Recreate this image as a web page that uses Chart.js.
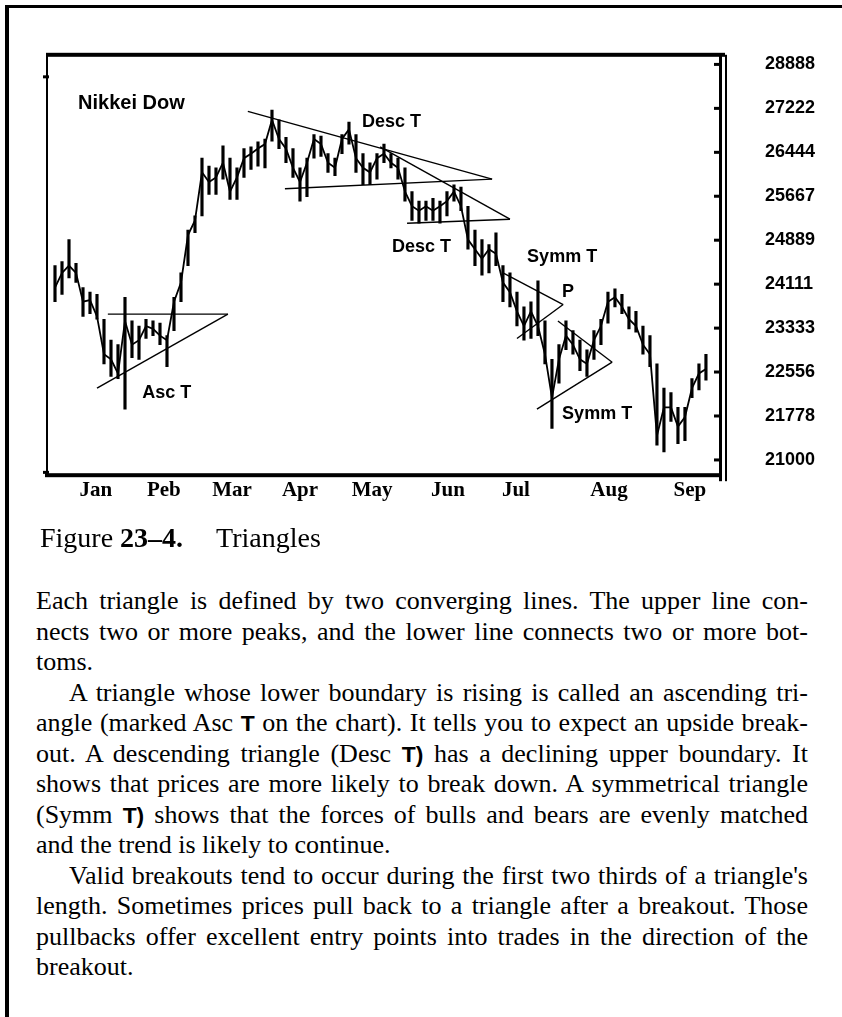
<!DOCTYPE html>
<html>
<head>
<meta charset="utf-8">
<title>Triangles</title>
<script src="https://cdn.jsdelivr.net/npm/chart.js@4.4.1/dist/chart.umd.min.js"></script>
<style>
  html, body { margin: 0; padding: 0; background: #fff; }
  body { width: 842px; height: 1017px; position: relative; overflow: hidden; }
  .page { position: absolute; left: 5px; top: 5px; width: 842px; height: 1020px; border-top: 3px solid #000; border-left: 4px solid #000; }
  #chartBox { position: absolute; left: 0; top: 0; width: 842px; height: 530px; }
  .caption { position: absolute; left: 40px; top: 523px; font-family: 'Liberation Serif', serif; font-size: 28px; line-height: 30px; color: #000; white-space: nowrap; }
  .caption .num { font-weight: bold; margin-right: 33px; }
  .text { position: absolute; left: 36px; top: 586px; width: 772px; font-family: 'Liberation Serif', serif; font-size: 26px; line-height: 30.5px; color: #000; }
  .text div { white-space: nowrap; }
  .text .j { text-align: justify; text-align-last: justify; white-space: normal; }
  .text .ind { text-indent: 33px; }
  .t { font-family: 'Liberation Sans', sans-serif; font-weight: bold; font-size: 0.88em; }
</style>
</head>
<body>
<div class="page"></div>
<div id="chartBox"><canvas id="nikkeiChart" width="842" height="530"></canvas></div>
<div class="caption">Figure <span class="num">23–4.</span>Triangles</div>
<div class="text">
  <div class="j">Each triangle is defined by two converging lines. The upper line con-</div>
  <div class="j">nects two or more peaks, and the lower line connects two or more bot-</div>
  <div>toms.</div>
  <div class="j ind">A triangle whose lower boundary is rising is called an ascending tri-</div>
  <div class="j">angle (marked Asc <span class="t">T</span> on the chart). It tells you to expect an upside break-</div>
  <div class="j">out. A descending triangle (Desc <span class="t">T)</span> has a declining upper boundary. It</div>
  <div class="j">shows that prices are more likely to break down. A symmetrical triangle</div>
  <div class="j">(Symm <span class="t">T)</span> shows that the forces of bulls and bears are evenly matched</div>
  <div>and the trend is likely to continue.</div>
  <div class="j ind">Valid breakouts tend to occur during the first two thirds of a triangle's</div>
  <div class="j">length. Sometimes prices pull back to a triangle after a breakout. Those</div>
  <div class="j">pullbacks offer excellent entry points into trades in the direction of the</div>
  <div>breakout.</div>
</div>
<script>
// trading day index of each sampled bar
const days = [0, 2, 4, 6, 8, 10, 12, 14, 16, 18, 20, 22, 24, 26, 28, 30, 32, 34, 36, 38,
	40, 42, 44, 46, 48, 50, 52, 54, 56, 58, 60, 62, 64, 66, 68, 70, 72, 74, 76, 78,
	80, 82, 84, 86, 88, 90, 92, 94, 96, 98, 100, 102, 104, 106, 108, 110, 112, 114, 116, 118,
	120, 122, 124, 126, 128, 130, 132, 134, 136, 138, 140, 142, 144, 146, 148, 150, 152, 154, 156, 158,
	160, 162, 164, 166, 168, 170, 172, 174, 176, 178, 180, 182, 184, 186];
const highs = [24440, 24510, 24900, 24480, 24050, 23970, 23930, 23490, 23120, 23040,
	23880, 23460, 23370, 23490, 23460, 23420, 23200, 23880, 24310, 25070,
	25320, 26340, 26200, 26170, 26560, 26340, 26170, 26510, 26540, 26630,
	26680, 27190, 27020, 26710, 26510, 26170, 26340, 26760, 26730, 26420,
	26340, 26760, 26980, 26760, 26420, 26260, 26420, 26590, 26420, 26340,
	26170, 25750, 25580, 25580, 25630, 25580, 25750, 25870, 25830, 25490,
	25070, 24900, 24810, 25020, 24440, 24310, 23970, 23710, 23800, 24170,
	23460, 22780, 23040, 23460, 23290, 23120, 22950, 23290, 23490, 23970,
	24030, 23930, 23710, 23630, 23370, 23200, 22700, 22270, 22190, 21930,
	21930, 22440, 22700, 22870];
const lows = [23800, 23930, 24220, 24140, 23540, 23590, 23490, 22700, 22480, 22440,
	21900, 22810, 22780, 23150, 23200, 23040, 22650, 23290, 23800, 24440,
	25020, 25320, 25700, 25700, 25970, 25610, 25610, 26000, 26140, 26200,
	26170, 26640, 26510, 26260, 26000, 25580, 25660, 26340, 26370, 26090,
	26030, 26420, 26590, 26090, 25870, 25870, 25970, 26260, 26170, 25970,
	25580, 25240, 25190, 25240, 25240, 25190, 25320, 25580, 25410, 24730,
	24440, 24270, 24310, 24440, 23800, 23710, 23370, 23120, 23150, 23200,
	22700, 21560, 22360, 22950, 22870, 22580, 22480, 22780, 23040, 23420,
	23710, 23590, 23320, 23260, 22870, 22650, 21260, 21140, 21680, 21290,
	21340, 22100, 22240, 22410];
const closes = [24050, 24310, 24440, 24310, 23800, 23830, 23540, 22870, 22780, 22530,
	23460, 23040, 23120, 23370, 23320, 23200, 23120, 23800, 24140, 24980,
	25240, 26090, 25920, 26000, 26260, 25750, 26000, 26340, 26420, 26510,
	26590, 27020, 26680, 26510, 26170, 25920, 26260, 26680, 26590, 26260,
	26170, 26680, 26850, 26340, 26170, 26090, 26340, 26420, 26260, 26170,
	25750, 25490, 25410, 25490, 25410, 25490, 25580, 25750, 25490, 24900,
	24730, 24560, 24730, 24650, 24140, 23970, 23630, 23370, 23630, 23370,
	22870, 22100, 22780, 23200, 23040, 22780, 22700, 23120, 23370, 23800,
	23880, 23710, 23490, 23370, 23040, 22870, 21430, 21930, 21930, 21590,
	21760, 22270, 22530, 22610];

const monthLabels = ['Jan', 'Peb', 'Mar', 'Apr', 'May', 'Jun', 'Jul', 'Aug', 'Sep'];
const monthDays = [11.7, 31.1, 50.6, 70.0, 90.6, 112.3, 131.7, 158.3, 181.4];

const yTickValues = [21000, 21778, 22556, 23333, 24111, 24889, 25667, 26444, 27222, 28000];
const yTickLabels = ['21000', '21778', '22556', '23333', '24111', '24889', '25667', '26444', '27222', '28888'];
const leftMarkValues = [27780, 20780];

// triangle boundaries: asc (2), big desc (2), small desc (2), symm P (2), lower symm (2)
const lineStartDays = [15.1, 12.0, 55.1, 65.7, 92.9, 100.6, 128.0, 132.0, 143.7, 137.7];
const lineStartValues = [23580, 22270, 27170, 25800, 26540, 25190, 24310, 23150, 23460, 21900];
const lineEndDays = [49.4, 49.4, 124.9, 124.9, 130.0, 130.0, 145.2, 145.2, 159.2, 159.2];
const lineEndValues = [23580, 23580, 25970, 25970, 25260, 25260, 23750, 23750, 22730, 22730];

const noteTexts = ['Nikkei Dow', 'Desc T', 'Desc T', 'Symm T', 'P', 'Symm T', 'Asc T'];
const noteDays = [6.6, 87.7, 96.3, 134.9, 144.9, 144.9, 24.9];
const noteValues = [27310, 26980, 24760, 24590, 23970, 21810, 22190];

document.addEventListener("DOMContentLoaded", function () {
	const canvas = document.getElementById('nikkeiChart');
	const ctx = canvas.getContext('2d');

	const datasets = [];

	// high-low bars
	datasets.push({
		type: 'bar',
		data: days.map((d, i) => ({ x: d, y: [lows[i], highs[i]] })),
		backgroundColor: '#000',
		borderWidth: 0,
		barThickness: 2.5,
		order: 2
	});

	// closing path
	datasets.push({
		type: 'line',
		data: days.map((d, i) => ({ x: d, y: closes[i] })),
		borderColor: '#000',
		borderWidth: 1.8,
		pointRadius: 0,
		tension: 0,
		order: 1
	});

	for (let i = 0; i < lineStartDays.length; i++) {
		datasets.push({
			type: 'line',
			data: [
				{ x: lineStartDays[i], y: lineStartValues[i] },
				{ x: lineEndDays[i], y: lineEndValues[i] }
			],
			borderColor: '#000',
			borderWidth: 1.4,
			pointRadius: 0,
			order: 0
		});
	}

	const framePlugin = {
		id: 'frame',
		afterDraw(chart) {
			const c = chart.ctx;
			const a = chart.chartArea;
			const y = chart.scales.y;
			c.save();
			c.fillStyle = '#000';
			c.fillRect(a.left - 2, a.top - 2, a.right - a.left + 6, 4);   // top
			c.fillRect(a.left - 3, a.bottom - 2, a.right - a.left + 4, 4); // bottom
			c.fillRect(a.left - 2, a.top, 2, a.bottom - a.top);           // left
			c.fillRect(a.right - 2, a.top, 3, a.bottom - a.top + 6);      // right inner
			c.fillRect(a.right + 4, a.top, 2, a.bottom - a.top + 6);      // right outer
			yTickValues.forEach(function (v) {
				const py = y.getPixelForValue(v);
				c.fillRect(a.right - 7, py - 1.5, 6, 3);
			});
			leftMarkValues.forEach(function (v) {
				const py = y.getPixelForValue(v);
				c.fillRect(a.left - 5, py - 1.5, 6, 3);
			});
			c.restore();
		}
	};

	const notesPlugin = {
		id: 'notes',
		afterDatasetsDraw(chart) {
			const c = chart.ctx;
			const x = chart.scales.x;
			const y = chart.scales.y;
			c.save();
			c.fillStyle = '#000';
			c.textAlign = 'left';
			c.textBaseline = 'middle';
			noteTexts.forEach(function (t, i) {
				c.font = (i === 0 ? 'bold 20px' : 'bold 18px') + " 'Liberation Sans', Arial, sans-serif";
				c.fillText(t, x.getPixelForValue(noteDays[i]), y.getPixelForValue(noteValues[i]));
			});
			c.restore();
		}
	};

	new Chart(ctx, {
		type: 'bar',
		data: { datasets: datasets },
		options: {
			responsive: false,
			animation: false,
			devicePixelRatio: 1,
			layout: { padding: { left: 48, top: 42, right: 0, bottom: 0 } },
			plugins: {
				legend: { display: false },
				tooltip: { enabled: false }
			},
			scales: {
				x: {
					type: 'linear',
					min: -2,
					max: 190.3,
					offset: false,
					grid: { display: false, drawTicks: false },
					border: { display: false },
					afterFit: function (s) { s.height = 49; },
					afterBuildTicks: function (s) { s.ticks = monthDays.map(v => ({ value: v })); },
					ticks: {
						autoSkip: false,
						maxRotation: 0,
						padding: 3,
						color: '#000',
						font: { family: "'Liberation Serif', serif", size: 21, weight: 'bold' },
						callback: function (v, i) { return monthLabels[i]; }
					}
				},
				y: {
					position: 'right',
					min: 20730,
					max: 28170,
					grid: { display: false, drawTicks: false },
					border: { display: false },
					afterFit: function (s) { s.width = 121; },
					afterBuildTicks: function (s) { s.ticks = yTickValues.map(v => ({ value: v })); },
					ticks: {
						padding: 44,
						color: '#000',
						font: { family: "'Liberation Sans', sans-serif", size: 18, weight: 'bold' },
						callback: function (v, i) { return yTickLabels[i]; }
					}
				}
			}
		},
		plugins: [framePlugin, notesPlugin]
	});
});
</script>
</body>
</html>
